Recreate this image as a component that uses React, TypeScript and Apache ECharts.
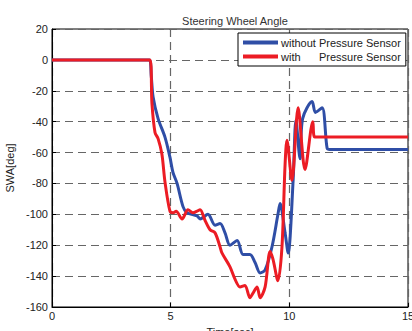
import React, { useEffect, useRef } from "react";
import * as echarts from "echarts";

const xTicks = [0, 5, 10, 15];
const yTicks = [-160, -140, -120, -100, -80, -60, -40, -20, 0, 20];
const seriesNames = ["without Pressure Sensor", "with      Pressure Sensor"];

const withoutSensor: [number, number][] = [
  [0, 0], [4.1, 0], [4.18, -10], [4.26, -24], [4.47, -38], [4.76, -50], [4.97, -63],
  [5.1, -73], [5.27, -80], [5.52, -95], [5.69, -99], [6.11, -101], [6.24, -103],
  [6.57, -100], [6.87, -107], [7.08, -106], [7.29, -112], [7.5, -120], [7.8, -117],
  [8.05, -126], [8.34, -126], [8.55, -131], [8.77, -138], [8.98, -136], [9.27, -121],
  [9.52, -100], [9.61, -93], [9.82, -112], [9.95, -125], [10.16, -78], [10.28, -39],
  [10.45, -64], [10.56, -38], [10.96, -27], [11.1, -34], [11.38, -31], [11.59, -57],
  [11.7, -58], [15, -58],
];

const withSensor: [number, number][] = [
  [0, 0], [4.13, 0], [4.21, -28], [4.34, -47], [4.47, -51], [4.63, -61], [4.76, -79],
  [4.97, -98], [5.1, -99], [5.23, -98], [5.48, -103], [5.73, -97], [5.94, -99],
  [6.11, -98], [6.24, -97], [6.45, -104], [6.66, -110], [6.87, -112], [7.08, -121],
  [7.16, -125], [7.5, -134], [7.71, -142], [7.92, -147], [8.13, -146], [8.34, -154],
  [8.47, -151], [8.64, -147], [8.77, -154], [8.98, -147], [9.19, -124], [9.31, -129],
  [9.52, -143], [9.69, -121], [9.82, -68], [9.9, -52], [10.11, -78], [10.37, -31],
  [10.66, -71], [10.99, -40], [11.07, -50], [15, -50],
];

export default function App() {
  const ref = useRef<HTMLDivElement>(null);
  useEffect(() => {
    if (!ref.current) return;
    const chart = echarts.init(ref.current, undefined, { renderer: "svg" });
    const font = "Liberation Sans, Arial, sans-serif";
    chart.setOption({
      animation: false,
      backgroundColor: "#fff",
      title: {
        text: "Steering Wheel Angle",
        left: 230,
        textAlign: "center",
        top: 10,
        textStyle: { fontSize: 11, fontWeight: "normal", color: "#333", fontFamily: font },
      },
      legend: {
        orient: "vertical",
        left: 238,
        top: 33,
        width: 165,
        padding: [4, 5, 4, 5],
        itemGap: 3,
        itemWidth: 35,
        itemHeight: 4,
        icon: "rect",
        backgroundColor: "#fff",
        borderColor: "#000",
        borderWidth: 1,
        borderRadius: 0,
        textStyle: { fontSize: 11, color: "#222", fontFamily: font, padding: [0, 0, 0, -2] },
        data: seriesNames,
      },
      grid: {
        left: 52,
        right: 4,
        top: 29,
        bottom: 24,
        show: true,
        borderColor: "#000",
        borderWidth: 1,
        containLabel: false,
        outerBoundsMode: "none",
      },
      xAxis: {
        type: "value",
        min: 0,
        max: 15,
        interval: 5,
        name: "Time[sec]",
        nameLocation: "middle",
        nameGap: 19,
        nameTextStyle: { fontSize: 11, color: "#222", fontFamily: font },
        axisLine: { onZero: false, lineStyle: { color: "#000", width: 1 } },
        axisTick: { inside: true, length: 4, lineStyle: { color: "#000" } },
        axisLabel: {
          fontSize: 11, color: "#222", fontFamily: font, margin: 3,
          formatter: (v: number) => (xTicks.includes(v) ? String(v) : ""),
        },
        splitLine: { show: true, lineStyle: { color: "#666", type: [8, 5], width: 1.2 } },
      },
      yAxis: {
        type: "value",
        min: -160,
        max: 20,
        interval: 20,
        name: "SWA[deg]",
        nameLocation: "middle",
        nameGap: 34,
        nameTextStyle: { fontSize: 11, color: "#222", fontFamily: font },
        axisLine: { onZero: false, lineStyle: { color: "#000", width: 1 } },
        axisTick: { inside: true, length: 4, lineStyle: { color: "#000" } },
        axisLabel: {
          fontSize: 11, color: "#222", fontFamily: font, margin: 4,
          formatter: (v: number) => (yTicks.includes(v) ? String(v) : ""),
        },
        splitLine: { show: true, lineStyle: { color: "#666", type: [8, 5], width: 1.2 } },
      },
      series: [
        {
          name: seriesNames[0],
          type: "line",
          data: withoutSensor,
          showSymbol: false,
          smooth: 0.3,
          lineStyle: { color: "#2f4ea6", width: 3 },
          itemStyle: { color: "#2f4ea6" },
          z: 2,
        },
        {
          name: seriesNames[1],
          type: "line",
          data: withSensor,
          showSymbol: false,
          smooth: 0.3,
          lineStyle: { color: "#ec1c24", width: 3 },
          itemStyle: { color: "#ec1c24" },
          z: 3,
        },
      ],
    });
    return () => chart.dispose();
  }, []);
  return <div ref={ref} style={{ width: 412, height: 331, position: "absolute", left: 0, top: 0 }} />;
}
